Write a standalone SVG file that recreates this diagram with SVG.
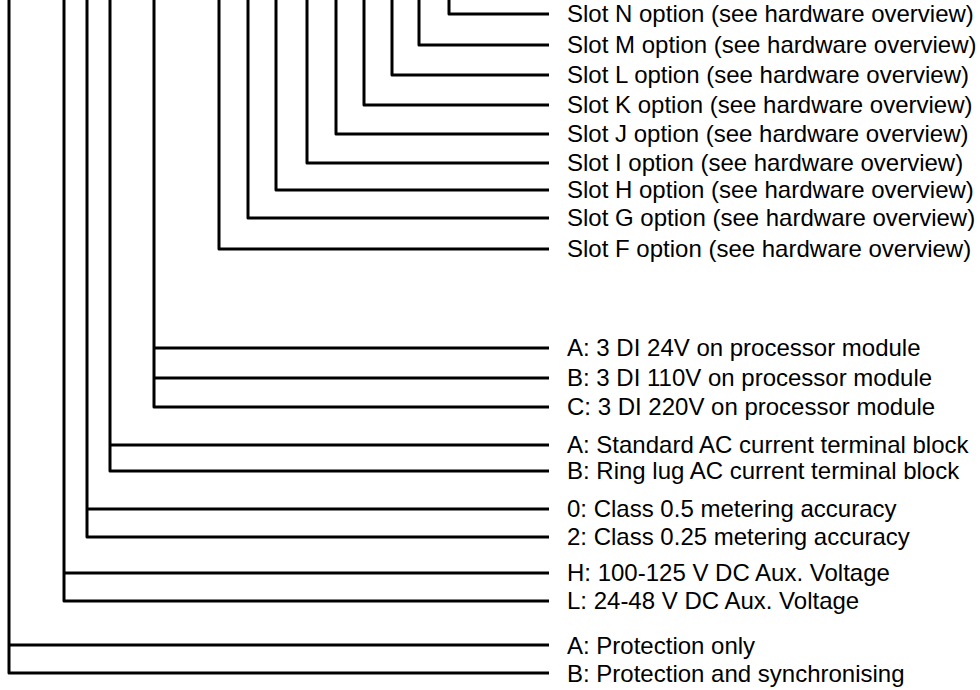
<svg xmlns="http://www.w3.org/2000/svg" width="980" height="690" viewBox="0 0 980 690">
<style>
.c{fill:none;stroke:#000;stroke-width:3;stroke-linejoin:round;stroke-linecap:butt}
.t{font-family:"Liberation Sans",Arial,sans-serif;font-size:24px;fill:#000}
</style>
<rect width="980" height="690" fill="#fff"/>
<g id="connectors">
<path class="c" d="M449,0V14H549"/>
<path class="c" d="M419,0V45H549"/>
<path class="c" d="M392,0V75H549"/>
<path class="c" d="M364,0V105H549"/>
<path class="c" d="M336,0V134H549"/>
<path class="c" d="M307,0V163H549"/>
<path class="c" d="M276,0V190H549"/>
<path class="c" d="M248,0V218H549"/>
<path class="c" d="M219,0V249H549"/>
<path class="c" d="M154,0V407H549M154,348H549M154,378H549"/>
<path class="c" d="M110,0V471H549M110,445H549"/>
<path class="c" d="M87,0V537H549M87,509H549"/>
<path class="c" d="M64,0V601H549M64,573H549"/>
<path class="c" d="M9,0V673H549M9,645H549"/>
</g>
<g id="slot-n"><text class="t" x="567" y="22">Slot N option (see hardware overview)</text></g>
<g id="slot-m"><text class="t" x="567" y="53">Slot M option (see hardware overview)</text></g>
<g id="slot-l"><text class="t" x="567" y="83">Slot L option (see hardware overview)</text></g>
<g id="slot-k"><text class="t" x="567" y="113">Slot K option (see hardware overview)</text></g>
<g id="slot-j"><text class="t" x="567" y="142">Slot J option (see hardware overview)</text></g>
<g id="slot-i"><text class="t" x="567" y="171">Slot I option (see hardware overview)</text></g>
<g id="slot-h"><text class="t" x="567" y="198">Slot H option (see hardware overview)</text></g>
<g id="slot-g"><text class="t" x="567" y="226">Slot G option (see hardware overview)</text></g>
<g id="slot-f"><text class="t" x="567" y="257">Slot F option (see hardware overview)</text></g>
<g id="di">
<text class="t" x="567" y="356">A: 3 DI 24V on processor module</text>
<text class="t" x="567" y="386">B: 3 DI 110V on processor module</text>
<text class="t" x="567" y="415">C: 3 DI 220V on processor module</text>
</g>
<g id="terminal">
<text class="t" x="567" y="453">A: Standard AC current terminal block</text>
<text class="t" x="567" y="479">B: Ring lug AC current terminal block</text>
</g>
<g id="metering">
<text class="t" x="567" y="517">0: Class 0.5 metering accuracy</text>
<text class="t" x="567" y="545">2: Class 0.25 metering accuracy</text>
</g>
<g id="aux">
<text class="t" x="567" y="581">H: 100-125 V DC Aux. Voltage</text>
<text class="t" x="567" y="609">L: 24-48 V DC Aux. Voltage</text>
</g>
<g id="function">
<text class="t" x="567" y="654">A: Protection only</text>
<text class="t" x="567" y="682">B: Protection and synchronising</text>
</g>
</svg>
